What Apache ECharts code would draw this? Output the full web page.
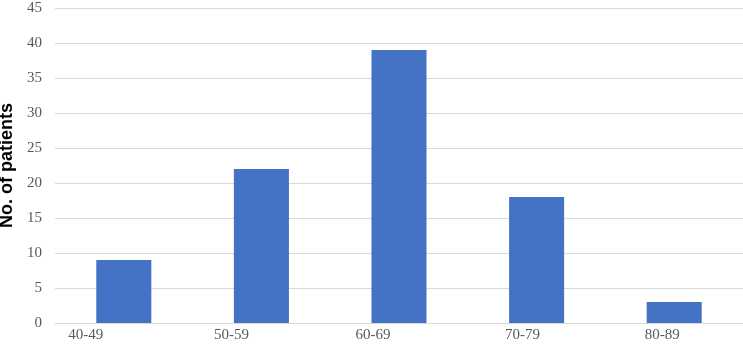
<!DOCTYPE html>
<html>
<head>
<meta charset="utf-8">
<script src="https://cdn.jsdelivr.net/npm/echarts@6/dist/echarts.min.js"></script>
<style>html,body{margin:0;padding:0;background:#fff}#c{width:743px;height:344px}</style>
</head>
<body>
<div id="c"></div>
<script>
const categories = ['40-49', '50-59', '60-69', '70-79', '80-89'];
const patients = [9, 22, 39, 18, 3];
const yTicks = { min: 0, max: 45, interval: 5 };
const yAxisTitle = 'No. of patients';

// label shift from band centre (styling only)
const labelShift = [38, 30, 26, 14, 12];
const rich = {};
labelShift.forEach((s, i) => {
  rich['a' + i] = { padding: [0, 2 * s, 0, 0], fontFamily: 'Liberation Serif', fontSize: 15, color: '#595959' };
});

const chart = echarts.init(document.getElementById('c'), null, { renderer: 'canvas' });
chart.setOption({
  animation: false,
  grid: { left: 55, right: 0, top: 8, bottom: 21, containLabel: false, outerBoundsMode: 'none' },
  xAxis: {
    type: 'category',
    data: categories,
    axisLine: { show: true, lineStyle: { color: '#d9d9d9', width: 1 } },
    axisTick: { show: false },
    axisLabel: {
      margin: 5,
      formatter: (v, i) => '{a' + i + '|' + v + '}',
      rich: rich
    }
  },
  yAxis: {
    type: 'value',
    min: yTicks.min, max: yTicks.max, interval: yTicks.interval,
    name: yAxisTitle,
    nameLocation: 'middle',
    nameGap: 33,
    nameRotate: 90,
    nameTextStyle: { fontFamily: 'Liberation Sans', fontWeight: 'bold', fontSize: 18, color: '#000' },
    axisLine: { show: false },
    axisTick: { show: false },
    axisLabel: { margin: 13, fontFamily: 'Liberation Serif', fontSize: 15, color: '#595959' },
    splitLine: { lineStyle: { color: '#d9d9d9', width: 1 } }
  },
  series: [{
    type: 'bar',
    data: patients,
    barWidth: '40%',
    itemStyle: { color: '#4472C4' }
  }]
});
</script>
</body>
</html>
